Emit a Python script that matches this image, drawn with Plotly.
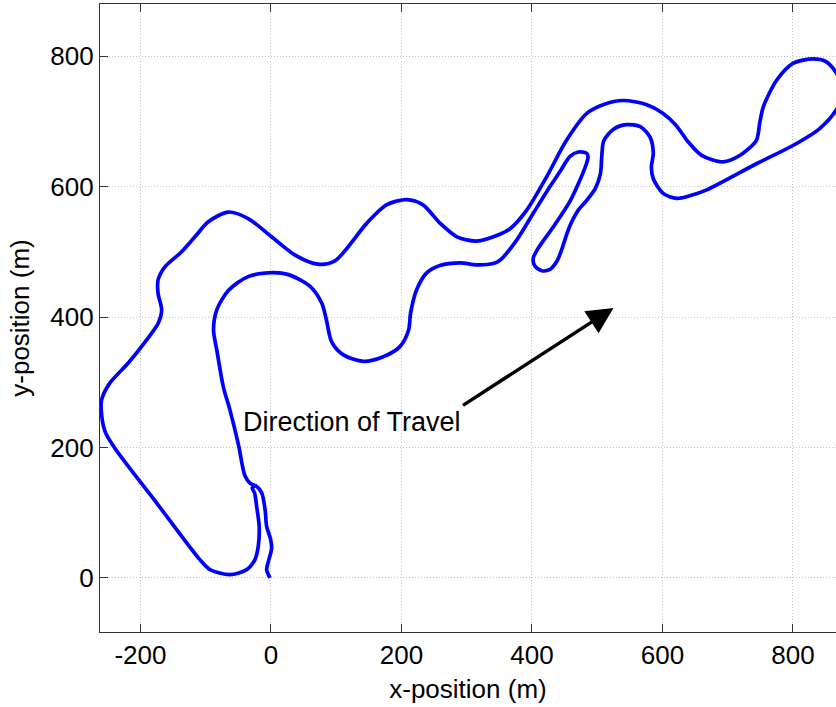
import plotly.graph_objects as go

# Track centre-line (metres), traced in order
x_m = [-1.5, -6.6, -4, 1, -0.5, -6.6, -9, -14, -19.5, -24.5, -28.6, -25, -22, -18, -19.5, -24.5,
       -37, -63, -93.5, -109, -174.5, -240, -254, -259.5, -259.5, -247, -219,
       -190.5, -173, -167.5, -173, -173, -162.5, -137, -116.5, -96, -65, -35, 1, 37, 72, 98,
       147, 177, 208, 233, 259, 285, 315, 351, 366, 392, 422.5, 453, 483.6, 510, 540, 575,
       600, 620, 640, 660, 693, 719, 744, 749, 754.5, 775, 800, 831, 850, 866, 878, 866, 841,
       800, 744, 668, 642, 622, 601, 586, 583, 586, 581, 566, 545, 525, 510, 507, 505,
       497, 484, 471, 461, 453, 445.5, 438, 427.6, 415, 404.6, 402, 408, 432.6, 458, 473.6,
       483.6, 486, 484, 471, 458, 443, 427.6, 402, 376.6, 351, 340.7, 315, 290, 259, 238,
       223, 214, 211, 198, 172, 141.5, 111, 93, 85, 78, 60, 27, 1, -35, -65, -83, -88,
       -83, -73, -63, -50, -40, -32, -22]
y_m = [0, 12.7, 25, 45, 59, 79, 105, 130, 138, 141, 138, 130, 110, 79, 48, 28, 12.7, 5, 12.7,
       28, 114, 200, 224, 250, 273, 298.6, 329, 365, 390, 411, 436, 457, 477,
       500, 523, 546, 561, 551, 523, 495, 481, 486, 544, 572, 580, 572, 544, 523, 516.5, 527,
       535, 564, 615, 671, 712, 726, 732, 726, 713, 695, 668, 648, 638, 648, 671, 697, 722,
       763, 789, 796, 792, 775, 745, 717, 689, 663, 635, 595, 586, 582, 589.6, 612, 630,
       651, 676, 692, 695, 688, 670, 646, 620, 597, 579, 564, 546, 526, 503, 485, 473, 471,
       478, 490, 503, 538, 577, 610, 635.5, 645, 651, 653, 646, 623, 600, 559, 518, 487,
       482, 480, 483, 479, 467, 441, 406, 380, 355, 339, 332, 342, 362, 395.5, 421, 447,
       465, 468, 462, 441, 411, 380, 349.6, 293, 258, 205, 157, 145, 141]

x_ticks = [-200, 0, 200, 400, 600, 800]
x_tick_labels = ["-200", "0", "200", "400", "600", "800"]
y_ticks = [0, 200, 400, 600, 800]
y_tick_labels = ["0", "200", "400", "600", "800"]
x_range = [-262, 866]
y_range = [-83, 880]

label_text = "Direction of Travel"
label_pos = (-46, 239)
arrow_tail = (292, 263)
arrow_tip = (525, 414)

FONT = "Liberation Sans, Arial, Helvetica, sans-serif"

fig = go.Figure()
fig.add_trace(go.Scatter(x=x_m, y=y_m, mode="lines",
                         line=dict(color="#0000FF", width=3.7, shape="spline", smoothing=0.8),
                         showlegend=False, hoverinfo="skip"))

fig.add_annotation(x=label_pos[0], y=label_pos[1], xref="x", yref="y", text=label_text,
                   showarrow=False, xanchor="left", yanchor="middle",
                   font=dict(family=FONT, size=27, color="black"))
fig.add_annotation(x=arrow_tip[0], y=arrow_tip[1], ax=arrow_tail[0], ay=arrow_tail[1],
                   xref="x", yref="y", axref="x", ayref="y", text="",
                   showarrow=True, arrowhead=2, arrowsize=1.5, arrowwidth=3.5, arrowcolor="black")

axis_common = dict(showline=True, linecolor="#333333", linewidth=1.3, ticks="inside",
                   ticklen=8, tickwidth=1, tickcolor="#333333", showgrid=True,
                   gridcolor="#c4c4c4", griddash="1px,2px", gridwidth=1, zeroline=False,
                   tickfont=dict(family=FONT, size=26, color="black"))
fig.update_xaxes(range=x_range, tickvals=x_ticks, ticktext=x_tick_labels, mirror="ticks",
                 title=dict(text="x-position (m)", font=dict(family=FONT, size=26, color="black"), standoff=10),
                 **axis_common)
fig.update_yaxes(range=y_range, tickvals=y_ticks, ticktext=y_tick_labels, mirror=False,
                 title=dict(text="y-position (m)", font=dict(family=FONT, size=26, color="black"), standoff=13),
                 **axis_common)
fig.update_layout(width=836, height=707, margin=dict(l=100, r=0, t=4, b=75, pad=0),
                  plot_bgcolor="white", paper_bgcolor="white")
fig.write_html("out.html")
